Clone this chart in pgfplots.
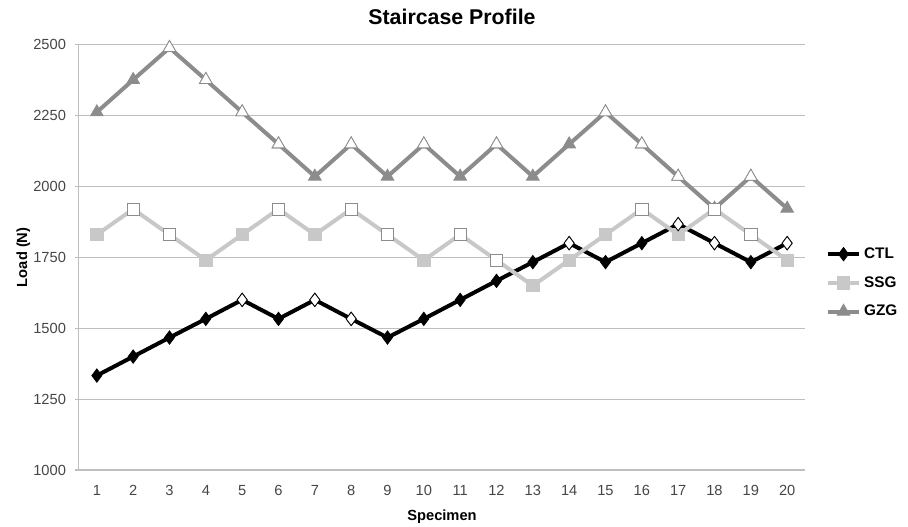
\documentclass[border=0pt]{standalone}
\usepackage{fontspec}
\setmainfont{Liberation Sans}
\usepackage{pgfplots}
\pgfplotsset{compat=1.18}
\usepackage{pgfplotstable}
\definecolor{ssgc}{RGB}{200,200,200}
\definecolor{gzgc}{RGB}{140,140,140}
\definecolor{gridc}{RGB}{190,190,190}
\definecolor{tickc}{RGB}{70,70,70}

\pgfplotstableread{
x y h
1 1333 0
2 1400 0
3 1467 0
4 1533 0
5 1600 1
6 1533 0
7 1600 1
8 1533 1
9 1467 0
10 1533 0
11 1600 0
12 1667 0
13 1733 0
14 1800 1
15 1733 0
16 1800 0
17 1867 1
18 1800 1
19 1733 0
20 1800 1
}\ctl

\pgfplotstableread{
x y h
1 1830 0
2 1920 1
3 1830 1
4 1740 0
5 1830 0
6 1920 1
7 1830 0
8 1920 1
9 1830 1
10 1740 0
11 1830 1
12 1740 1
13 1650 0
14 1740 0
15 1830 0
16 1920 1
17 1830 0
18 1920 1
19 1830 1
20 1740 0
}\ssg

\pgfplotstableread{
x y h
1 2262 0
2 2376 0
3 2489 1
4 2376 1
5 2262 1
6 2149 1
7 2035 0
8 2149 1
9 2035 0
10 2149 1
11 2035 0
12 2149 1
13 2035 0
14 2149 0
15 2262 1
16 2149 1
17 2035 1
18 1922 0
19 2035 1
20 1922 0
}\gzg

\begin{document}
\begin{tikzpicture}
\path[use as bounding box] (0,0) rectangle (681pt,394.5pt);
\begin{axis}[
  at={(59pt,42pt)}, anchor=south west,
  scale only axis, width=545pt, height=319pt,
  xmin=0.5, xmax=20.5, ymin=1000, ymax=2500,
  xtick={1,...,20},
  minor xtick={0.5,1.5,...,20.5},
  ytick={1000,1250,...,2500},
  axis x line*=bottom, axis y line*=left,
  axis line style={gridc, line width=0.9pt, -},
  tick align=outside,
  major tick length=3pt, minor tick length=3pt,
  xtick style={draw=none},
  minor x tick style={gridc, line width=0.9pt},
  y tick style={gridc, line width=0.9pt},
  ymajorgrids, grid style={gridc, line width=0.9pt},
  /pgf/number format/assume math mode=true,
  /pgf/number format/1000 sep={},
  tick label style={font=\fontsize{11}{13}\selectfont, text=tickc},
  x tick label style={yshift=-5pt},
  y tick label style={xshift=-3pt},
  title={Staircase Profile},
  title style={font=\bfseries\fontsize{16}{18}\selectfont, yshift=5.5pt, xshift=7.5pt},
  xlabel={Specimen},
  xlabel style={font=\bfseries\fontsize{11}{13}\selectfont, yshift=-4pt},
  ylabel={Load (N)},
  ylabel style={font=\bfseries\fontsize{11}{13}\selectfont, yshift=-4.5pt},
  legend style={at={(1,0.44)}, anchor=west, xshift=12pt, draw=none, fill=none,
    font=\bfseries\fontsize{11.5}{13}\selectfont, row sep=8pt},
  legend cell align=left,
  legend image code/.code={\draw[mark repeat=2, mark phase=2] plot coordinates {(0cm,0cm) (0.42cm,0cm) (0.84cm,0cm)};},
  every axis plot/.append style={line width=3pt},
]
\addplot[black, mark=diamond*, mark size=5pt, mark options={fill=black, line width=0.6pt}] table[x=x, y=y] {\ctl};
\addlegendentry{CTL}
\addplot[ssgc, mark=square*, mark size=4.6pt, mark options={fill=ssgc, line width=0.6pt}] table[x=x, y=y] {\ssg};
\addlegendentry{SSG}
\addplot[gzgc, mark=triangle*, mark size=5.5pt, mark options={fill=gzgc, line width=0.6pt}] table[x=x, y=y] {\gzg};
\addlegendentry{GZG}
\addplot[forget plot, only marks, mark=square*, mark size=4.6pt, mark options={fill=white, draw=ssgc!70!black, line width=0.6pt}, restrict expr to domain={\thisrow{h}}{0.5:1.5}] table[x=x, y=y] {\ssg};
\addplot[forget plot, only marks, mark=triangle*, mark size=5.5pt, mark options={fill=white, draw=gzgc, line width=0.6pt}, restrict expr to domain={\thisrow{h}}{0.5:1.5}] table[x=x, y=y] {\gzg};
\addplot[forget plot, only marks, mark=diamond*, mark size=5pt, mark options={fill=white, draw=black, line width=0.6pt}, restrict expr to domain={\thisrow{h}}{0.5:1.5}] table[x=x, y=y] {\ctl};
\end{axis}
\end{tikzpicture}
\end{document}
